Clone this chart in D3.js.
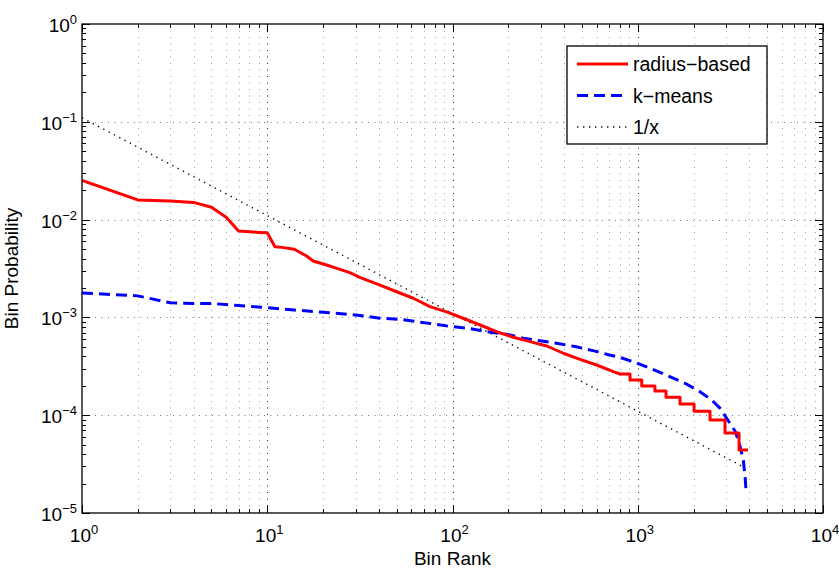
<!DOCTYPE html>
<html>
<head>
<meta charset="utf-8">
<style>
  body { margin: 0; background: #fff; }
  text { font-family: "Liberation Sans", Arial, sans-serif; fill: #000; }
</style>
</head>
<body>
<div class="chart-container"></div>
<script src="https://cdn.jsdelivr.net/npm/d3@7/dist/d3.min.js"></script>
<script>
// radius-based: smooth head, then a staircase tail
var radiusRank = [1, 2, 3, 4, 5, 6, 7, 8, 9, 10, 11, 12, 14, 16.3, 17.7, 20.9, 24.7, 27.9, 31.6,
  40.6, 50, 61.4, 75.6, 93, 114, 141, 173, 213, 262, 323, 396, 488, 600, 738];
var radiusProb = [0.0252, 0.0159, 0.0155, 0.0150, 0.01336, 0.01056, 0.00764, 0.0075, 0.0074, 0.00734,
  0.00528, 0.0052, 0.00497, 0.00425, 0.00377, 0.00343, 0.0031, 0.00287, 0.00257,
  0.00214, 0.00183, 0.00157, 0.00129, 0.00114, 0.00098, 0.000836, 0.000714, 0.000626, 0.000565,
  0.00051, 0.00043, 0.000373, 0.000326, 0.000279];
var radiusStepRank = [802, 908, 1051, 1238, 1421, 1691, 2014, 2455, 2958, 3522, 3937];
var radiusStepProb = [2.64e-4, 2.29e-4, 1.99e-4, 1.77e-4, 1.53e-4, 1.30e-4, 1.10e-4, 8.93e-5, 6.58e-5, 4.41e-5];

var kmeansRank = [1, 2, 3, 4, 5, 7, 10, 14, 20, 30, 40.6, 52, 64, 79, 96, 121, 153, 196, 241, 296,
  364, 466, 573, 704, 797, 946, 1164, 1462, 1799, 2168, 2506, 2779, 3021, 3350, 3533, 3714, 3796, 3840];
var kmeansProb = [1.78e-3, 1.66e-3, 1.41e-3, 1.39e-3, 1.39e-3, 1.32e-3, 1.26e-3, 1.19e-3, 1.13e-3, 1.06e-3,
  9.8e-4, 9.57e-4, 9.04e-4, 8.57e-4, 8.11e-4, 7.74e-4, 7.15e-4, 6.73e-4, 6.11e-4, 5.78e-4,
  5.43e-4, 5.01e-4, 4.57e-4, 4.13e-4, 3.91e-4, 3.52e-4, 3.02e-4, 2.52e-4, 2.12e-4, 1.74e-4,
  1.43e-4, 1.18e-4, 9.29e-5, 6.89e-5, 5.16e-5, 3.48e-5, 2.35e-5, 1.72e-5];

var refRank = [1, 3700];
var refProb = [0.11, 2.97e-5];

var legendLabels = ['radius\u2212based', 'k\u2212means', '1/x'];

var W = 839, H = 569;
var margin = {top: 24, right: 16, bottom: 56, left: 82};

var x = d3.scaleLog().domain([1, 1e4]).range([margin.left, W - margin.right]);
var y = d3.scaleLog().domain([1e-5, 1]).range([H - margin.bottom, margin.top]);

var svg = d3.select('.chart-container').append('svg')
    .attr('width', W)
    .attr('height', H);

function isMajor(v) {
  var l = Math.log10(v);
  return Math.abs(l - Math.round(l)) < 1e-6;
}

var x0 = x.range()[0], x1 = x.range()[1];
var y0 = y.range()[0], y1 = y.range()[1];

// grid: minor + major on x, major only on y
var grid = svg.append('g').attr('class', 'grid');
x.ticks().filter(v => v > 1 && v < 1e4).forEach(v => {
  grid.append('line')
    .attr('x1', Math.round(x(v)) + 0.5).attr('x2', Math.round(x(v)) + 0.5)
    .attr('y1', y1).attr('y2', y0)
    .style('stroke', isMajor(v) ? '#222' : '#a0a0a0')
    .style('stroke-width', 1)
    .style('stroke-dasharray', '1,5.5');
});
y.ticks().filter(v => isMajor(v) && v > 1e-5 * 1.001 && v < 0.999).forEach(v => {
  grid.append('line')
    .attr('x1', x0).attr('x2', x1)
    .attr('y1', Math.round(y(v)) + 0.5).attr('y2', Math.round(y(v)) + 0.5)
    .style('stroke', '#777')
    .style('stroke-width', 1)
    .style('stroke-dasharray', '1,5.5');
});

svg.append('clipPath').attr('id', 'plot-clip')
  .append('rect')
    .attr('x', x0).attr('y', y1)
    .attr('width', x1 - x0).attr('height', y0 - y1);

var line = d3.line()
    .x(d => x(d[0]))
    .y(d => y(d[1]));

var radiusData = radiusRank.map((r, i) => [r, radiusProb[i]]);
radiusStepProb.forEach((p, i) => {
  radiusData.push([radiusStepRank[i], p]);
  radiusData.push([radiusStepRank[i + 1], p]);
});
var kmeansData = kmeansRank.map((r, i) => [r, kmeansProb[i]]);
var refData = refRank.map((r, i) => [r, refProb[i]]);

var series = [
  {data: refData, color: '#111', width: 1.4, dash: '1.4,4.6'},
  {data: kmeansData, color: '#0000ff', width: 3, dash: '11,6'},
  {data: radiusData, color: '#ff0000', width: 3, dash: null}
];

var plot = svg.append('g').attr('clip-path', 'url(#plot-clip)');
series.forEach(s => {
  plot.append('path')
    .attr('d', line(s.data))
    .style('fill', 'none')
    .style('stroke', s.color)
    .style('stroke-width', s.width)
    .style('stroke-dasharray', s.dash)
    .style('stroke-linejoin', 'round');
});

// box
svg.append('rect')
  .attr('x', x0).attr('y', y1)
  .attr('width', x1 - x0).attr('height', y0 - y1)
  .style('fill', 'none')
  .style('stroke', '#000')
  .style('stroke-width', 1.3);

// ticks on all four sides, pointing inward
var ticks = svg.append('g').style('stroke', '#000').style('stroke-width', 1);
x.ticks().forEach(v => {
  var len = isMajor(v) ? 8 : 4;
  var px = Math.round(x(v)) + 0.5;
  ticks.append('line').attr('x1', px).attr('x2', px).attr('y1', y0).attr('y2', y0 - len);
  ticks.append('line').attr('x1', px).attr('x2', px).attr('y1', y1).attr('y2', y1 + len);
});
y.ticks().forEach(v => {
  var len = isMajor(v) ? 8 : 4;
  var py = Math.round(y(v)) + 0.5;
  ticks.append('line').attr('y1', py).attr('y2', py).attr('x1', x0).attr('x2', x0 + len);
  ticks.append('line').attr('y1', py).attr('y2', py).attr('x1', x1).attr('x2', x1 - len);
});

function powLabel(sel, v) {
  var e = Math.round(Math.log10(v));
  sel.append('tspan').text('10');
  sel.append('tspan')
    .attr('dy', -8)
    .style('font-size', '13px')
    .text(e < 0 ? '\u2212' + (-e) : String(e));
}

x.ticks().filter(isMajor).forEach(v => {
  var t = svg.append('text')
    .attr('x', x(v) + 2)
    .attr('y', y0 + 29)
    .attr('text-anchor', 'middle')
    .style('font-size', '19px');
  powLabel(t, v);
});
y.ticks().filter(isMajor).forEach(v => {
  var t = svg.append('text')
    .attr('x', x0 - 5)
    .attr('y', y(v) + 8)
    .attr('text-anchor', 'end')
    .style('font-size', '19px');
  powLabel(t, v);
});

svg.append('text')
  .attr('x', (x0 + x1) / 2)
  .attr('y', 565)
  .attr('text-anchor', 'middle')
  .style('font-size', '19px')
  .text('Bin Rank');

svg.append('text')
  .attr('transform', 'translate(18,' + ((y0 + y1) / 2) + ') rotate(-90)')
  .attr('text-anchor', 'middle')
  .style('font-size', '19px')
  .text('Bin Probability');

// legend
var legend = svg.append('g').attr('transform', 'translate(567,46)');
legend.append('rect')
  .attr('width', 200).attr('height', 98)
  .style('fill', '#fff')
  .style('stroke', '#000')
  .style('stroke-width', 1.3);

var legendSeries = [series[2], series[1], series[0]];
legendLabels.forEach((label, i) => {
  var s = legendSeries[i];
  var ly = 18 + i * 31.5;
  legend.append('line')
    .attr('x1', 10).attr('x2', 61)
    .attr('y1', ly).attr('y2', ly)
    .style('stroke', s.color)
    .style('stroke-width', s.width)
    .style('stroke-dasharray', s.dash);
  legend.append('text')
    .attr('x', 66)
    .attr('y', ly + 7)
    .style('font-size', '19.5px')
    .text(label);
});
</script>
</body>
</html>
